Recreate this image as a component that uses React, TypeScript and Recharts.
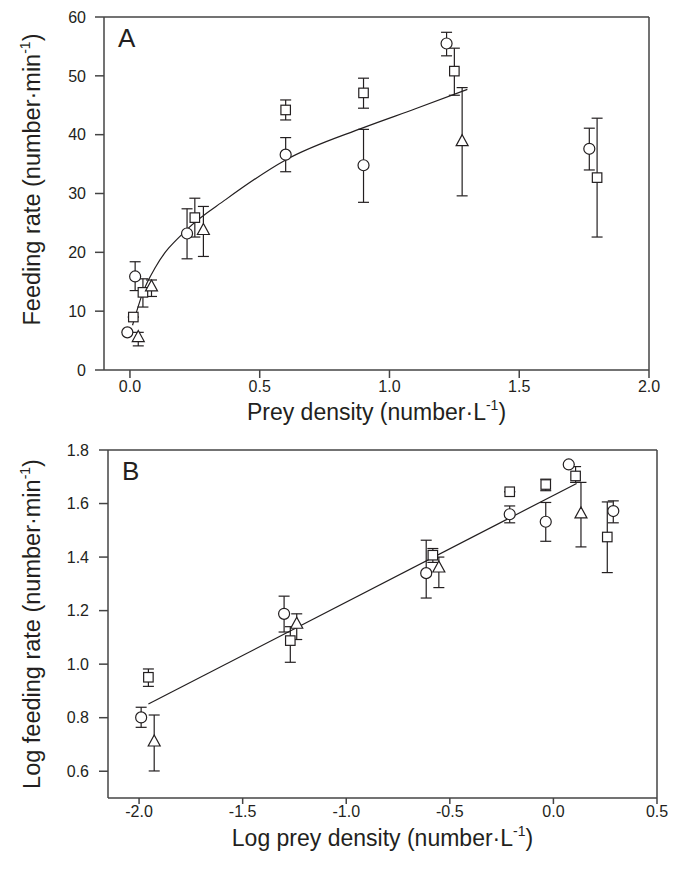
import React from "react";
import { ScatterChart, Scatter, XAxis, YAxis, ErrorBar, Label, ReferenceLine } from "recharts";

const INK = "#231f20";
const AXIS = "#444";
const FONT = "'Liberation Sans', Arial, Helvetica, sans-serif";

// ---- Panel A: feeding rate vs prey density ----
const xTicksA = [0, 0.5, 1, 1.5, 2];
const yTicksA = [0, 10, 20, 30, 40, 50, 60];

const circleAX = [-0.01, 0.02, 0.22, 0.6, 0.9, 1.22, 1.77];
const circleAY = [6.4, 15.9, 23.2, 36.6, 34.8, 55.5, 37.6];
const circleALo = [6.4, 13.5, 18.9, 33.7, 28.5, 53.4, 34.0];
const circleAHi = [6.4, 18.4, 27.4, 39.5, 40.9, 57.4, 41.1];

const squareAX = [0.013, 0.05, 0.25, 0.6, 0.9, 1.25, 1.8];
const squareAY = [9.0, 13.2, 25.9, 44.2, 47.1, 50.8, 32.7];
const squareALo = [9.0, 10.7, 22.6, 42.5, 44.5, 46.7, 22.6];
const squareAHi = [9.0, 15.5, 29.2, 45.9, 49.6, 54.7, 42.8];

const triAX = [0.032, 0.083, 0.283, 1.28];
const triAY = [5.6, 14.2, 23.8, 38.9];
const triALo = [4.1, 12.5, 19.3, 29.6];
const triAHi = [6.4, 15.3, 27.8, 48.0];

const fitAX = [0.01, 0.05, 0.1, 0.22, 0.37, 0.6, 0.9, 1.1, 1.3];
const fitAY = [7.6, 13.2, 17.6, 23.9, 29.0, 35.7, 41.2, 44.4, 47.7];

// ---- Panel B: log feeding rate vs log prey density ----
const xTicksB = [-2, -1.5, -1, -0.5, 0, 0.5];
const yTicksB = [0.6, 0.8, 1.0, 1.2, 1.4, 1.6, 1.8];

const circleBX = [-1.99, -1.3, -0.614, -0.211, -0.037, 0.074, 0.289];
const circleBY = [0.801, 1.188, 1.34, 1.56, 1.532, 1.746, 1.572];
const circleBLo = [0.764, 1.12, 1.247, 1.528, 1.459, 1.746, 1.528];
const circleBHi = [0.839, 1.254, 1.463, 1.591, 1.604, 1.746, 1.61];

const squareBX = [-1.955, -1.27, -0.582, -0.211, -0.037, 0.107, 0.26];
const squareBY = [0.951, 1.088, 1.407, 1.644, 1.671, 1.703, 1.475];
const squareBLo = [0.917, 1.007, 1.38, 1.644, 1.648, 1.679, 1.342];
const squareBHi = [0.982, 1.14, 1.432, 1.644, 1.691, 1.738, 1.606];

const triBX = [-1.927, -1.239, -0.553, 0.133];
const triBY = [0.711, 1.151, 1.361, 1.563];
const triBLo = [0.601, 1.092, 1.286, 1.438];
const triBHi = [0.81, 1.188, 1.4, 1.679];

const fitBX = [-1.955, 0.112];
const fitBY = [0.851, 1.675];

function rows(xs: number[], ys: number[], lo: number[], hi: number[]) {
  return xs.map((x, i) => ({ x, y: ys[i], err: [ys[i] - lo[i], hi[i] - ys[i]] }));
}

function line(xs: number[], ys: number[]) {
  return xs.map((x, i) => ({ x, y: ys[i] }));
}

const Circle = (p: any) => (
  <circle cx={p.cx} cy={p.cy} r={5.5} fill="#fff" stroke={INK} strokeWidth={1.2} />
);
const Square = (p: any) => (
  <rect x={p.cx - 4.75} y={p.cy - 4.75} width={9.5} height={9.5} fill="#fff" stroke={INK} strokeWidth={1.2} />
);
const Triangle = (p: any) => (
  <polygon
    points={`${p.cx},${p.cy - 6.5} ${p.cx - 6},${p.cy + 4.5} ${p.cx + 6},${p.cy + 4.5}`}
    fill="#fff"
    stroke={INK}
    strokeWidth={1.2}
  />
);
const NoDot = () => <g />;

const tickStyle = { fill: INK, fontSize: 16, fontFamily: FONT };
const axisLine = { stroke: AXIS, strokeWidth: 1.5 };

function xTitle(text: string, dy: number) {
  return (props: any) => {
    const { x, y, width } = props.viewBox;
    return (
      <text x={x + width / 2} y={y + dy} textAnchor="middle" fontSize={23} fill={INK} fontFamily={FONT}>
        {text}
        <tspan dy={-10} fontSize={14}>-1</tspan>
        <tspan dy={10}>)</tspan>
      </text>
    );
  };
}

function yTitle(text: string, dx: number, dy: number) {
  return (props: any) => {
    const { x, y, height } = props.viewBox;
    const cx = x + dx;
    const cy = y + height / 2 + dy;
    return (
      <text
        x={cx}
        y={cy}
        transform={`rotate(-90, ${cx}, ${cy})`}
        textAnchor="middle"
        fontSize={23.5}
        fill={INK}
        fontFamily={FONT}
      >
        {text}
        <tspan dy={-10} fontSize={14}>-1</tspan>
        <tspan dy={10}>)</tspan>
      </text>
    );
  };
}

function panelLetter(letter: string) {
  return (props: any) => {
    const { x, y, width } = props.viewBox;
    return (
      <text x={x + width + 14} y={y + 30} fontSize={26} fill={INK} fontFamily={FONT}>
        {letter}
      </text>
    );
  };
}

export default function App() {
  return (
    <div style={{ position: "absolute", left: 0, top: 0, width: 683, height: 869, background: "#fff" }}>
      <ScatterChart width={683} height={430} margin={{ top: 17, right: 34, bottom: 0, left: 0 }}>
        <XAxis
          type="number"
          dataKey="x"
          domain={[-0.1, 2]}
          ticks={xTicksA}
          tickFormatter={(v: number) => v.toFixed(1)}
          height={60}
          tickSize={8}
          tickMargin={3}
          axisLine={axisLine}
          tickLine={axisLine}
          tick={tickStyle}
          allowDataOverflow
        >
          <Label content={xTitle("Prey density (number·L", 50)} />
        </XAxis>
        <YAxis
          type="number"
          dataKey="y"
          domain={[0, 60]}
          ticks={yTicksA}
          width={104}
          tickSize={9}
          tickMargin={9}
          axisLine={axisLine}
          tickLine={axisLine}
          tick={tickStyle}
          allowDataOverflow
        >
          <Label content={yTitle("Feeding rate (number·min", 40, -14)} />
          <Label content={panelLetter("A")} />
        </YAxis>
        <ReferenceLine y={60} stroke={AXIS} strokeWidth={1.5} />
        <ReferenceLine x={2} stroke={AXIS} strokeWidth={1.5} />
        <Scatter data={line(fitAX, fitAY)} line={{ stroke: INK, strokeWidth: 1.2 }} lineJointType="monotoneX" shape={NoDot} isAnimationActive={false} />
        <Scatter data={rows(circleAX, circleAY, circleALo, circleAHi)} shape={Circle} isAnimationActive={false}>
          <ErrorBar dataKey="err" direction="y" width={5.5} stroke={INK} strokeWidth={1.2} isAnimationActive={false} />
        </Scatter>
        <Scatter data={rows(squareAX, squareAY, squareALo, squareAHi)} shape={Square} isAnimationActive={false}>
          <ErrorBar dataKey="err" direction="y" width={5.5} stroke={INK} strokeWidth={1.2} isAnimationActive={false} />
        </Scatter>
        <Scatter data={rows(triAX, triAY, triALo, triAHi)} shape={Triangle} isAnimationActive={false}>
          <ErrorBar dataKey="err" direction="y" width={5.5} stroke={INK} strokeWidth={1.2} isAnimationActive={false} />
        </Scatter>
      </ScatterChart>

      <ScatterChart width={683} height={439} margin={{ top: 20, right: 26, bottom: 0, left: 0 }}>
        <XAxis
          type="number"
          dataKey="x"
          domain={[-2.15, 0.5]}
          ticks={xTicksB}
          tickFormatter={(v: number) => v.toFixed(1)}
          height={71}
          tickSize={6}
          tickMargin={2}
          axisLine={axisLine}
          tickLine={axisLine}
          tick={tickStyle}
          allowDataOverflow
        >
          <Label content={xTitle("Log prey density (number·L", 48)} />
        </XAxis>
        <YAxis
          type="number"
          dataKey="y"
          domain={[0.5, 1.8]}
          ticks={yTicksB}
          tickFormatter={(v: number) => v.toFixed(1)}
          width={108}
          tickSize={9}
          tickMargin={10}
          axisLine={axisLine}
          tickLine={axisLine}
          tick={tickStyle}
          allowDataOverflow
        >
          <Label content={yTitle("Log feeding rate (number·min", 40, 0)} />
          <Label content={panelLetter("B")} />
        </YAxis>
        <ReferenceLine y={1.8} stroke={AXIS} strokeWidth={1.5} />
        <ReferenceLine x={0.5} stroke={AXIS} strokeWidth={1.5} />
        <Scatter data={line(fitBX, fitBY)} line={{ stroke: INK, strokeWidth: 1.2 }} shape={NoDot} isAnimationActive={false} />
        <Scatter data={rows(circleBX, circleBY, circleBLo, circleBHi)} shape={Circle} isAnimationActive={false}>
          <ErrorBar dataKey="err" direction="y" width={5.5} stroke={INK} strokeWidth={1.2} isAnimationActive={false} />
        </Scatter>
        <Scatter data={rows(squareBX, squareBY, squareBLo, squareBHi)} shape={Square} isAnimationActive={false}>
          <ErrorBar dataKey="err" direction="y" width={5.5} stroke={INK} strokeWidth={1.2} isAnimationActive={false} />
        </Scatter>
        <Scatter data={rows(triBX, triBY, triBLo, triBHi)} shape={Triangle} isAnimationActive={false}>
          <ErrorBar dataKey="err" direction="y" width={5.5} stroke={INK} strokeWidth={1.2} isAnimationActive={false} />
        </Scatter>
      </ScatterChart>
    </div>
  );
}
